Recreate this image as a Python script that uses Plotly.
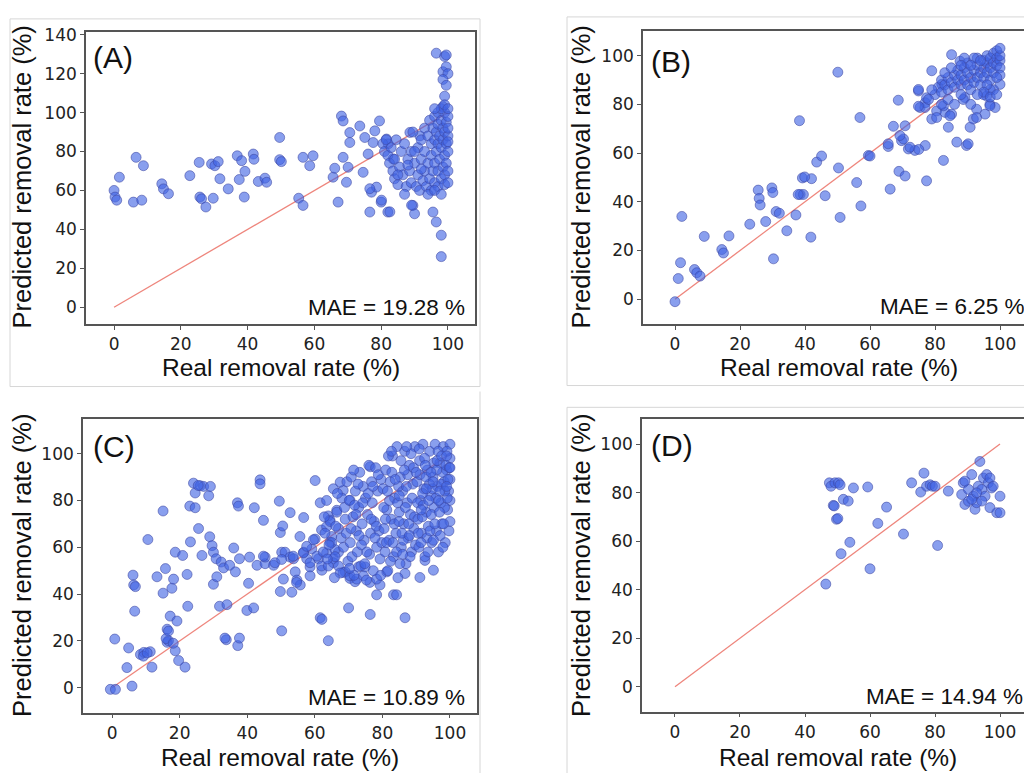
import plotly.graph_objects as go

# ---------------- data: real vs predicted removal rate (%) ----------------
real_a = [
    0, 0.3, 0.8, 1.6, 5.8, 6.6, 8.3, 8.8, 14.3, 14.8,
    16.3, 22.7, 25.5, 25.7, 26.2, 27.5, 29.2, 30.2, 29.7, 31.2,
    31.7, 34.2, 36.9, 37.5, 38.2, 39, 39.2, 41.7, 41.9, 43.2,
    45.2, 45.7, 49.6, 49.6, 50.1, 55.3, 56.6, 56.6, 58.6, 59.6,
    65.6, 66.1, 67.1, 68.1, 68.6, 68.6, 69.6, 70.1, 70.6, 70.6,
    73.6, 74.6, 75.1, 76.1, 76.6, 77.1, 77.6, 78.6, 78.1, 79.5,
    80, 82, 95.5, 96.5, 98, 98, 89.5, 90, 96.5, 99,
    99.5, 98.5, 99.5, 100, 98.5, 99.5, 99, 98.5, 81.6, 82.1,
    83.6, 88.6, 91.6, 76.6, 80.1, 82.6, 89.1, 80.5, 81, 81.5,
    82, 82.5, 83, 83.5, 84, 84.5, 84, 85, 85.5, 86,
    86.5, 87, 87.5, 88, 88.5, 89, 89, 89.5, 90, 90.5,
    91, 91, 91.5, 92, 92, 92.5, 93, 93, 93, 93.5,
    94, 94, 94.5, 94.5, 95, 95, 95, 95.5, 95.5, 96,
    96, 96, 96, 96.5, 96.5, 97, 97, 97, 97, 97,
    97.5, 97.5, 98, 98, 98, 98.5, 98.5, 98.5, 99, 99,
    99, 99, 99.5, 99.5, 99.5, 100, 100, 100, 100, 100,
    98, 96, 99, 100, 100, 85, 87, 88, 90, 92,
    94, 96, 99, 98, 100,
]
pred_a = [
    60, 56.6, 55, 66.8, 54, 77, 55, 72.7, 63.4, 60.8,
    58.3, 67.6, 74.4, 56.6, 55.7, 51.5, 73.6, 72.7, 56, 74.8,
    66, 60.8, 77.8, 65.6, 75.3, 56.6, 69.8, 78.7, 76, 64.6,
    66.3, 64.2, 87.2, 75.8, 74.8, 56, 52.3, 77, 72.7, 77.8,
    66.8, 71.4, 54, 98.2, 95.7, 77, 64.2, 71.9, 89.7, 84.6,
    93.1, 69.3, 87.2, 78.7, 48.9, 59.1, 84.6, 61.7, 90.6, 95.7,
    54, 48.9, 48.9, 43.8, 37, 26, 52.3, 48, 130.5, 128.8,
    129.6, 121, 123.5, 120, 117, 114, 108.4, 103, 86.4, 83.9,
    76.2, 89.8, 88, 60.9, 55, 49, 52.4, 84, 80, 86,
    78, 74, 82, 70, 76, 86, 66, 63, 72, 80,
    68, 84, 62, 76, 70, 80, 64, 90, 74, 62,
    82, 68, 60, 86, 76, 65, 92, 80, 70, 62,
    88, 74, 96, 66, 84, 78, 60, 92, 70, 98,
    86, 74, 64, 90, 80, 100, 94, 84, 70, 62,
    88, 76, 96, 82, 66, 92, 86, 72, 100, 90,
    78, 68, 95, 84, 74, 98, 88, 80, 70, 92,
    102, 102, 104, 102, 85, 68, 58, 73, 80, 71,
    58, 60, 63, 58, 64,
]

real_b = [
    0, 1, 1.7, 2.1, 6, 6.7, 7.7, 9, 14.4, 14.9,
    16.6, 23, 25.6, 25.9, 26.2, 27.9, 29.8, 30.1, 30.3, 31.1,
    32.1, 34.4, 37.2, 38.3, 38.5, 39.5, 39.2, 42, 41.8, 43.6,
    45.1, 46.2, 50.1, 50.3, 50.8, 55.9, 56.9, 57.2, 59.5, 60,
    65.6, 66.2, 67.2, 68.7, 68.9, 69.7, 70.3, 70.8, 70.8, 71.8,
    73.8, 74.9, 75.4, 77, 77.4, 77, 79, 79, 80.5, 82.1,
    82.6, 83.1, 84.1, 85.1, 85.1, 86.7, 87.7, 89.7, 89.2, 90.8,
    91.8, 92.8, 95.4, 95.9, 96.9, 98.5, 100, 88.7, 94.9, 96.9,
    92.8, 90.2, 84.6, 82.6, 80.5, 76.9, 77.4, 74.9, 74.9, 69.2,
    72.3, 75, 65.6, 80, 81, 82, 82, 83, 84, 84,
    85, 86, 86, 87, 87, 88, 88, 89, 89, 90,
    90, 90, 91, 91, 92, 92, 93, 93, 93, 94,
    94, 95, 95, 95, 96, 96, 96, 97, 97, 97,
    98, 98, 98, 99, 99, 99, 100, 100, 100, 100,
    100, 99, 98, 97, 96, 92, 94, 91, 89, 88,
    83, 85, 78, 79, 82, 84, 86, 88, 95, 93,
    91, 97, 99, 39.9, 37.9,
]
pred_b = [
    -1, 8.5, 15, 34, 12.2, 10.9, 9.5, 25.8, 20.4, 19,
    26, 30.8, 44.8, 41.4, 38.7, 31.9, 45.7, 43.8, 16.6, 36,
    35.3, 28.1, 34.6, 73.3, 43, 43, 49.8, 49.5, 25.5, 56.3,
    58.8, 42.5, 93.2, 53.9, 33.6, 47.9, 74.6, 38.3, 59, 58.8,
    62.7, 45.2, 71, 81.7, 52.5, 65.1, 65.8, 50.6, 71.2, 61.7,
    61.1, 85.5, 78.7, 63.1, 48.6, 80.7, 93.8, 74, 77.3, 88.2,
    57, 76.7, 70.6, 100.4, 76, 64.5, 97.7, 63.1, 82.8, 70.6,
    74, 78, 76, 83.4, 80, 78.7, 88.2, 82, 84, 79.4,
    74.6, 63.8, 75.3, 79.4, 74.6, 78.7, 82.7, 86.1, 79.2, 67.2,
    62.4, 61.5, 63.8, 84, 87, 85, 90, 88, 86, 91,
    89, 92, 87, 90, 94, 88, 92, 90, 95, 88,
    93, 97, 91, 86, 94, 89, 96, 91, 99, 93,
    88, 95, 98, 91, 97, 93, 100, 95, 99, 90,
    97, 101, 93, 99, 96, 102, 98, 100, 95, 92,
    103, 91, 86, 86, 88, 99, 98, 96, 99, 96,
    93, 95, 82, 86, 80, 82, 80, 84, 85, 84,
    80, 83, 84, 50.2, 43,
]

real_c = [
    -0.5, 1, 0.8, 4.9, 4.4, 5.9, 6.2, 6.4, 6.9, 6.7,
    8.4, 9.4, 10.6, 11.3, 11.8, 13.3, 15.1, 15.1, 15.8, 16.3,
    16.3, 16.7, 17.2, 17.7, 18.2, 18.7, 19.2, 19.7, 18.7, 20.9,
    21.6, 22.2, 22.4, 23.2, 23, 24.6, 24.1, 24.6, 25.6, 26.1,
    26.6, 27.1, 28.6, 29.1, 28.9, 29.6, 30, 30, 31, 30.8,
    31.8, 32.3, 33, 33.8, 34, 34.8, 36, 36.5, 37.1, 37.4,
    37.7, 37.2, 37.7, 40.4, 39.9, 41.9, 40.7, 42.1, 42.9, 43.8,
    43.8, 44.8, 45.3, 45.3, 47.8, 49.5, 49.8, 49.8, 50.2, 50.2,
    50.5, 51.2, 52.7, 52.7, 53.7, 54.2, 54.7, 55.7, 56.7, 56.7,
    57.6, 58.6, 59.1, 60.1, 60.1, 61.6, 61.1, 61.6, 62.1, 62.1,
    64, 64, 64.5, 65.5, 67, 69, 70, 70.4, 71.9, 72.9,
    74.9, 76.4, 76.4, 78.3, 79.3, 81.3, 83.3, 84.2, 86.7, 86.7,
    91.1, 95.1, 92.6, 25.5, 9.3, 10.4, 16, 16.7, 18.1, 33.4,
    44.8, 48.2, 50.2, 53.6, 56.6, 58.6, 60.6, 62, 63.5, 65.5,
    67, 68.4, 70.4, 72.4, 74.4, 76.3, 78.3, 50.7, 54.6, 58.6,
    53.2, 55.6, 57.6, 59.6, 62, 64.5, 65, 66.5, 68.4, 67.5,
    70.4, 66, 63.5,
    62.5, 63, 63.5, 64, 64.5, 65, 65.5, 66, 66.5, 67,
    67.5, 68, 68.5, 69, 69.5, 69.8, 62.8, 64.2, 65.8, 66.7,
    67.8, 68.8, 69.3, 63.7, 66.2,
    70.2, 70.5, 70.8, 71, 71.3, 71.6, 72, 72.3, 72.6, 73,
    73.3, 73.6, 74, 74.3, 74.6, 75, 75.3, 75.6, 76, 76.2,
    76.5, 76.8, 77, 77.3, 77.6, 78, 78.3, 78.6, 79, 79.3,
    79.6, 79.8, 70.7, 71.8, 72.8, 73.8, 74.8, 75.8, 76.7, 77.8,
    78.8, 79.5, 70.3, 72.2, 74.2, 75.4, 77.2, 78.2, 73.1, 71.5,
    80.2, 80.5, 80.8, 81, 81.3, 81.6, 82, 82.3, 82.6, 83,
    83.3, 83.6, 84, 84.3, 84.6, 85, 85.3, 85.6, 86, 86.3,
    86.6, 87, 87.3, 87.6, 88, 88.3, 88.6, 89, 89.3, 89.6,
    80.4, 81.2, 82.1, 82.8, 83.5, 84.2, 84.8, 85.5, 86.2, 86.8,
    87.5, 88.2, 88.8, 89.5, 80.9, 81.8, 83.1, 84.5, 85.8, 87.1,
    88.5, 89.8, 82.4, 85.2, 87.8, 86.5, 83.8, 81.5, 89.2, 84.9,
    88, 86, 82.7, 87.2, 85,
    90.2, 90.5, 90.8, 91, 91.3, 91.6, 92, 92.3, 92.6, 93,
    93.3, 93.6, 94, 94.3, 94.6, 95, 95.3, 95.6, 96, 96.3,
    96.6, 97, 97.3, 97.6, 98, 98.3, 98.6, 99, 99.3, 99.6,
    100, 100, 100, 100, 100, 90.4, 91.1, 91.8, 92.5, 93.2,
    93.9, 94.5, 95.2, 95.8, 96.5, 97.1, 97.8, 98.4, 99.1, 99.7,
    90.9, 92.1, 93.5, 94.8, 96.1, 97.4, 98.8, 99.4, 91.4, 92.9,
    94.1, 95.5, 96.9, 98.1, 99.2, 90.6, 91.9, 93.7, 95.1, 96.7,
    98.5, 99.8, 90, 92.7, 94.4, 96.2, 97.5, 99, 100, 93,
    95, 97, 99, 91.5, 97.9,
]
pred_c = [
    -0.7, -0.7, 20.8, 17, 8.6, 0.7, 48.1, 43.9, 43.2, 32.7,
    14.2, 15.1, 63.3, 15.4, 8.8, 47.4, 75.5, 40.4, 50.9, 25,
    19.4, 20.1, 30.6, 42.5, 46.4, 15.8, 28.5, 11.6, 57.9, 56.5,
    8.8, 48.4, 34.8, 62.3, 77.6, 76.9, 87.4, 83.2, 68, 86.3,
    56.5, 86, 82, 86, 64.5, 60.7, 57.9, 44.2, 47.4, 55.1,
    34.8, 53.7, 51.2, 20.5, 35.5, 52.3, 59.7, 49.5, 79, 77.6,
    55.1, 18, 21.2, 44.6, 33, 34.1, 55.8, 76.9, 52.3, 88.8,
    87.1, 71.5, 53, 55.8, 52.3, 79.7, 66.3, 41.1, 24.3, 57.9,
    69.1, 57.9, 74.8, 55.8, 55.1, 49.5, 46, 43.9, 72.7, 57.9,
    55.1, 51.6, 59.3, 88.5, 63.5, 79, 55.1, 29.9, 29.2, 50.2,
    20.1, 73.4, 62.1, 55.1, 57.9, 49.5, 34.1, 46.7, 45.3, 51.6,
    51.6, 31.3, 94.4, 39.7, 43.9, 49.5, 39.7, 39.7, 29.9, 48.8,
    47.1, 50.2, 54.4, 86.4, 13.5, 14.9, 21, 24.2, 19, 21.2,
    56.2, 53.4, 54.8, 56.2, 57.6, 53.4, 56.2, 52, 57.6, 53.4,
    52, 49.2, 47.8, 46.4, 47.8, 45, 46.4, 46.4, 45, 47.8,
    40.8, 64.6, 60.4, 63.2, 67.4, 71.6, 64.6, 75.8, 84.3, 87.8,
    80.1, 59, 68.8,
    58, 66, 80, 52, 71, 62, 85, 56, 75, 68,
    49, 81, 60, 72, 88, 54, 73, 61, 47, 83,
    64, 77, 66, 55, 69,
    80, 62, 90, 56, 73, 48, 84, 67, 58, 77,
    92, 52, 70, 86, 63, 81, 46, 74, 95, 57,
    66, 88, 79, 50, 71, 94, 60, 84, 67, 55,
    89, 62, 68, 78, 87, 61, 53, 83, 72, 64,
    91, 48, 51, 74, 79, 58, 86, 69, 65, 93,
    85, 68, 58, 93, 76, 50, 63, 88, 72, 99,
    56, 81, 66, 103, 47, 75, 90, 60, 84, 70,
    101, 53, 79, 64, 95, 74, 58, 87, 68, 103,
    77, 62, 80, 92, 70, 58, 86, 97, 63, 77,
    91, 56, 81, 73, 72, 99, 62, 79, 66, 86,
    100, 61, 54, 53, 70, 93, 89, 84, 94, 71,
    65, 57, 101, 103, 82,
    88, 72, 60, 97, 80, 66, 104, 85, 56, 75,
    93, 69, 101, 82, 62, 90, 77, 104, 67, 86,
    58, 96, 79, 70, 103, 88, 62, 93, 76, 84,
    98, 71, 89, 104, 80, 79, 91, 73, 98, 64,
    87, 74, 96, 81, 101, 65, 92, 77, 101, 67,
    102, 78, 58, 85, 93, 87, 95, 89, 62, 90,
    67, 70, 75, 70, 81, 66, 83, 80, 63, 80,
    84, 94, 92, 95, 92, 97, 99, 99, 94, 85,
    88, 84, 86, 76, 60,
]

real_d = [
    46.4, 47.5, 48, 48.7, 49, 49.2, 49.7, 50.1, 50.3, 50.8,
    51.1, 51.8, 53.3, 53.8, 54.9, 59.3, 60, 62.4, 65.1, 70.3,
    72.8, 75.6, 76.6, 77.4, 78.5, 79.2, 80, 80.8, 84.1, 88.2,
    88.7, 89.2, 90.3, 91.3, 91.8, 92.3, 92.8, 93.3, 93.8, 94.4,
    94.9, 95.4, 95.9, 96.4, 96.9, 97.4, 97.9, 96.9, 99, 100,
    100, 90.3, 91.3, 92.8, 94.4, 89.2,
]
pred_d = [
    42.3, 84, 82.6, 74.7, 74.5, 84, 69, 69.3, 84, 83.2,
    54.8, 77.2, 76.5, 59.5, 81.9, 82.3, 48.6, 67.3, 74, 62.9,
    84, 80.2, 88, 82.6, 83.2, 82.6, 82.6, 58.2, 80.6, 79.2,
    84, 75.1, 81.3, 87.4, 78.5, 73.1, 75.8, 82.6, 92.8, 81.3,
    86, 78.5, 87.4, 84, 86, 81.9, 82.6, 73.8, 71.7, 71.7,
    78.5, 76.4, 77.2, 79.9, 76.5, 84.7,
]

panel_labels = ["(A)", "(B)", "(C)", "(D)"]
mae_values = [19.28, 6.25, 10.89, 14.94]
identity = [0, 100]
x_ticks = [0, 20, 40, 60, 80, 100]
y_ticks_a = [0, 20, 40, 60, 80, 100, 120, 140]
y_ticks = [0, 20, 40, 60, 80, 100]

# ---------------- layout helpers ----------------
W, H = 1024, 773


def fx(p):
    return p / W


def fy(p):
    return 1 - p / H


SANS = "Liberation Sans, Arial, sans-serif"
TICKFONT = dict(family="DejaVu Sans, Verdana, sans-serif", size=17, color="#222")
MARKER = dict(size=10, color="rgba(65,100,228,0.62)",
              line=dict(color="rgba(60,70,160,0.55)", width=1))

panels = [
    dict(real=real_a, pred=pred_a, ax="", dom_x=(86, 475), dom_y=(25, 320),
         rx=(-8.4, 108.1), ry=(-8.66, 141.5), yt=y_ticks_a, right_line=True,
         lab=(92, 51), mae=(307, 303), xt=(281, 364), ytl=(22, 172)),
    dict(real=real_b, pred=pred_b, ax="2", dom_x=(643, 1024), dom_y=(24, 320),
         rx=(-9.85, 107.38), ry=(-10.2, 110.2), yt=y_ticks, right_line=False,
         lab=(650, 55), mae=(879, 302), xt=(839, 364), ytl=(581, 172)),
    dict(real=real_c, pred=pred_c, ax="3", dom_x=(83, 477), dom_y=(416, 712),
         rx=(-8.6, 108.0), ry=(-10.6, 114.7), yt=y_ticks, right_line=True,
         lab=(92, 444), mae=(307, 697), xt=(280, 757), ytl=(22, 564)),
    dict(real=real_d, pred=pred_d, ax="4", dom_x=(642, 1024), dom_y=(416, 711),
         rx=(-10.15, 107.38), ry=(-10.2, 110.2), yt=y_ticks, right_line=False,
         lab=(650, 443), mae=(865, 696), xt=(838, 757), ytl=(581, 564)),
]

fig = go.Figure()
layout = dict(width=W, height=H, margin=dict(l=0, r=0, t=0, b=0),
              paper_bgcolor="white", plot_bgcolor="white", showlegend=False)
annotations = []
shapes = []

for i, p in enumerate(panels):
    xa, ya = "x" + p["ax"], "y" + p["ax"]
    # 1:1 reference line under the points
    fig.add_trace(go.Scatter(x=identity, y=identity, mode="lines", xaxis=xa, yaxis=ya,
                             line=dict(color="rgba(236,120,110,0.9)", width=1.3),
                             hoverinfo="skip"))
    fig.add_trace(go.Scatter(x=p["real"], y=p["pred"], mode="markers", xaxis=xa, yaxis=ya,
                             marker=MARKER))
    common = dict(showline=True, linecolor="#555", linewidth=1.6, ticks="outside",
                  ticklen=4, tickwidth=1.4, tickcolor="#555", showgrid=False,
                  zeroline=False, tickfont=TICKFONT, tickmode="array")
    layout["xaxis" + p["ax"]] = dict(common, domain=[fx(p["dom_x"][0]), fx(p["dom_x"][1])],
                                     range=list(p["rx"]), tickvals=x_ticks, mirror=True,
                                     anchor=ya)
    layout["yaxis" + p["ax"]] = dict(common, domain=[fy(p["dom_y"][1]), fy(p["dom_y"][0])],
                                     range=list(p["ry"]), tickvals=p["yt"],
                                     mirror=p["right_line"], anchor=xa)
    annotations += [
        dict(text=panel_labels[i], x=fx(p["lab"][0]), y=fy(p["lab"][1]), xanchor="left",
             yanchor="middle", font=dict(family=SANS, size=30, color="#111")),
        dict(text=f"MAE = {mae_values[i]:.2f} %", x=fx(p["mae"][0]), y=fy(p["mae"][1]),
             xanchor="left", yanchor="middle", font=dict(family=SANS, size=22.5, color="#111")),
        dict(text="Real removal rate (%)", x=fx(p["xt"][0]), y=fy(p["xt"][1]),
             xanchor="center", yanchor="middle", font=dict(family=SANS, size=24.5, color="#111")),
        dict(text="Predicted removal rate (%)", x=fx(p["ytl"][0]), y=fy(p["ytl"][1]),
             xanchor="center", yanchor="middle", textangle=-90,
             font=dict(family=SANS, size=25.5, color="#111")),
    ]

for a in annotations:
    a.update(xref="paper", yref="paper", showarrow=False, borderpad=0)

# faint frames around each sub-figure
frame = dict(type="line", xref="paper", yref="paper",
             line=dict(color="#d6d6d6", width=1))
for x0, y0, x1, y1 in [
    (10, 12, 480, 12), (480, 12, 480, 383), (10, 383, 480, 383), (10, 12, 10, 383),
    (567, 10, 1024, 10), (567, 10, 567, 382), (567, 382, 1024, 382),
    (480, 388, 480, 773),
    (567, 404, 1024, 404), (567, 404, 567, 773),
]:
    shapes.append(dict(frame, x0=fx(x0), y0=fy(y0), x1=fx(x1), y1=fy(y1)))

layout["annotations"] = annotations
layout["shapes"] = shapes
fig.update_layout(**layout)
fig.write_html("out.html")
